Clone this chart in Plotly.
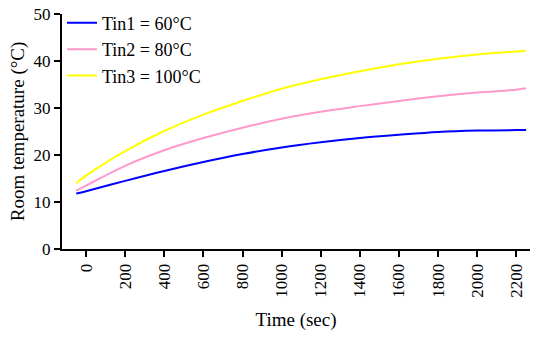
import plotly.graph_objects as go

time_s = [-50, 0, 200, 400, 600, 800, 1000, 1200, 1400, 1600, 1800, 2000, 2200, 2250]
tin1 = [11.8, 12.3, 14.5, 16.6, 18.5, 20.2, 21.6, 22.7, 23.6, 24.3, 24.9, 25.2, 25.3, 25.3]
tin2 = [12.4, 13.5, 17.7, 21.0, 23.6, 25.8, 27.7, 29.2, 30.4, 31.5, 32.5, 33.3, 33.9, 34.2]
tin3 = [14.0, 15.6, 20.8, 25.1, 28.6, 31.5, 34.1, 36.1, 37.8, 39.3, 40.5, 41.4, 42.0, 42.2]
names = ["Tin1 = 60°C", "Tin2 = 80°C", "Tin3 = 100°C"]
colors = ["#0000ff", "#ff99cc", "#ffff00"]
x_ticks = list(range(0, 2201, 200))
y_ticks = list(range(0, 51, 10))

fig = go.Figure()
for ys, n, c in zip([tin1, tin2, tin3], names, colors):
    fig.add_trace(go.Scatter(x=time_s, y=ys, mode="lines", name=n,
                             line=dict(color=c, width=2, shape="spline")))

font = dict(family="Liberation Serif, Times New Roman, serif", size=17, color="black")
fig.update_layout(
    width=534, height=337,
    margin=dict(l=62, r=4, t=14, b=88),
    paper_bgcolor="white", plot_bgcolor="white",
    font=font,
    showlegend=True,
    legend=dict(x=0.0, y=1.04, xanchor="left", yanchor="top", bgcolor="rgba(0,0,0,0)",
                font=dict(size=18), tracegroupgap=0, itemwidth=30),
    xaxis=dict(range=[-123, 2270], tickvals=x_ticks, tickangle=-90,
               showline=True, linecolor="black", linewidth=2, ticks="outside",
               ticklen=6, tickwidth=2, tickcolor="black", showgrid=False, zeroline=False,
               title=dict(text="Time (sec)", font=dict(size=19), standoff=16)),
    yaxis=dict(range=[0, 50], tickvals=y_ticks,
               showline=True, linecolor="black", linewidth=2, ticks="outside",
               ticklen=6, tickwidth=2, tickcolor="black", showgrid=False, zeroline=False,
               title=dict(text="Room temperature (°C)", font=dict(size=19), standoff=4)),
)
fig.write_html("out.html")
